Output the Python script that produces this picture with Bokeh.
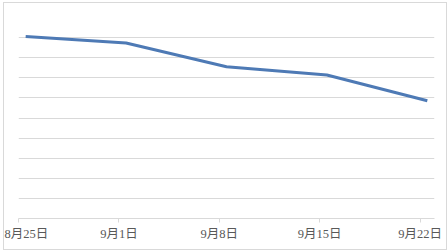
from bokeh.plotting import figure
from bokeh.embed import file_html
from bokeh.resources import INLINE
from bokeh.models import FixedTicker, SingleIntervalTicker, Range1d

tick_labels = ["8月25日", "9月1日", "9月8日", "9月15日", "9月22日"]
tick_days = [0, 7, 14, 21, 28]
point_days = [0.5, 7.5, 14.5, 21.5, 28.5]
values = [9.05, 8.73, 7.55, 7.14, 5.86]

p = figure(width=442, height=246, output_backend="svg", toolbar_location=None,
           x_range=Range1d(0, 29), y_range=Range1d(0, 10),
           min_border_left=14, min_border_right=14, min_border_top=14, min_border_bottom=33)
p.styles = {"margin-left": "3px", "margin-top": "2px", "border": "1px solid #d9d9d9", "box-sizing": "content-box"}
p.outline_line_color = None
p.background_fill_color = "white"
p.border_fill_color = "white"

p.line(point_days, values, line_color="#4e7ab5", line_width=3)

p.yaxis.visible = False
p.ygrid.ticker = SingleIntervalTicker(interval=1)
p.ygrid.grid_line_color = "#d9d9d9"
p.xgrid.visible = False

p.xaxis.ticker = FixedTicker(ticks=tick_days)
p.xaxis.major_label_overrides = {d: l for d, l in zip(tick_days, tick_labels)}
p.xaxis.axis_line_color = "#d9d9d9"
p.xaxis.major_tick_line_color = "#d9d9d9"
p.xaxis.major_tick_in = 0
p.xaxis.major_tick_out = 4
p.xaxis.minor_tick_line_color = None
p.xaxis.major_label_text_font = "Liberation Serif, Noto Sans CJK SC"
p.xaxis.major_label_text_font_size = "12.5px"
p.xaxis.major_label_text_color = "#595959"
p.xaxis.major_label_standoff = 4

open("out.html", "w").write(file_html(p, INLINE))
